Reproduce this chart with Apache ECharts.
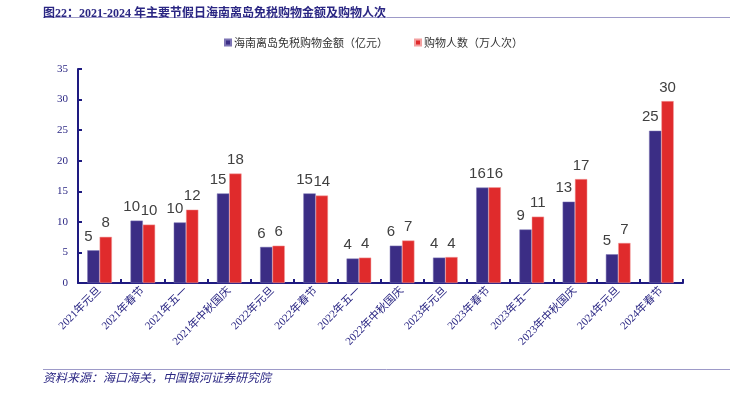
<!DOCTYPE html>
<html>
<head>
<meta charset="utf-8">
<script src="https://cdn.jsdelivr.net/npm/echarts@6/dist/echarts.min.js"></script>
<style>
html,body{margin:0;padding:0;background:#fff;}
#c{width:730px;height:393px;}
</style>
</head>
<body>
<div id="c"></div>
<script>
const categories = ['2021年元旦','2021年春节','2021年五一','2021年中秋国庆','2022年元旦','2022年春节','2022年五一','2022年中秋国庆','2023年元旦','2023年春节','2023年五一','2023年中秋国庆','2024年元旦','2024年春节'];
const amount = [5.35, 10.2, 9.9, 14.65, 5.9, 14.65, 4.0, 6.1, 4.15, 15.6, 8.75, 13.3, 4.7, 24.9];
const visitors = [7.55, 9.55, 12.0, 17.9, 6.1, 14.3, 4.15, 6.95, 4.25, 15.65, 10.85, 17.0, 6.55, 29.75];
const seriesNames = ['海南离岛免税购物金额（亿元）', '购物人数（万人次）'];
const titleText = '图22：2021-2024 年主要节假日海南离岛免税购物金额及购物人次';
const sourceText = '资料来源：海口海关，中国银河证券研究院';

const navy = '#2a2683';
const chart = echarts.init(document.getElementById('c'), null, {renderer: 'canvas'});
const labelCfg = (off) => ({
  show: true, position: 'top', distance: 6, offset: off,
  color: '#404040', fontSize: 15, fontFamily: 'Liberation Sans, Arial, sans-serif',
  formatter: p => Math.round(p.value)
});
chart.setOption({
  animation: false,
  backgroundColor: '#fff',
  title: {
    text: titleText, left: 38, top: 3,
    textStyle: {color: navy, fontSize: 12, fontWeight: 'bold', fontFamily: 'Liberation Serif, Noto Sans CJK SC, serif'}
  },
  graphic: [
    {type: 'line', shape: {x1: 43, y1: 17.5, x2: 730, y2: 17.5}, style: {stroke: '#9d9ac8', lineWidth: 1}},
    {type: 'line', shape: {x1: 43, y1: 369.5, x2: 730, y2: 369.5}, style: {stroke: '#9d9ac8', lineWidth: 1}},
    {type: 'text', left: 43, top: 371, style: {text: sourceText, fill: navy, fontSize: 12, fontStyle: 'italic', fontFamily: 'Noto Sans CJK SC, serif'}}
  ],
  legend: {
    top: 32, left: 219, itemWidth: 6, itemHeight: 6, itemGap: 26, icon: 'rect',
    textStyle: {color: '#333', fontSize: 11, fontFamily: 'Noto Sans CJK SC, sans-serif', padding: [0, 0, 0, -2]},
    data: seriesNames
  },
  grid: {left: 78, right: 47, top: 69, bottom: 110},
  xAxis: {
    type: 'category', data: categories, boundaryGap: true,
    axisLine: {lineStyle: {color: '#1e1a80', width: 2}},
    axisTick: {show: true, inside: true, length: 4, lineStyle: {color: '#1e1a80', width: 2}},
    axisLabel: {rotate: 45, color: navy, fontSize: 11, fontFamily: 'Liberation Serif, Noto Sans CJK SC, serif', margin: 6, interval: 0}
  },
  yAxis: {
    type: 'value', min: 0, max: 35, interval: 5,
    splitLine: {show: false},
    axisLine: {show: true, lineStyle: {color: '#1e1a80', width: 2}},
    axisTick: {show: true, inside: true, length: 4, lineStyle: {color: '#1e1a80', width: 2}},
    axisLabel: {color: navy, fontSize: 11, fontFamily: 'Liberation Serif, serif', margin: 10}
  },
  series: [
    {name: seriesNames[0], type: 'bar', data: amount, barGap: '0%', barCategoryGap: '43%',
     itemStyle: {color: '#3b2d85', borderColor: '#7d74b4', borderWidth: 0.5},
     label: labelCfg([-5, 0])},
    {name: seriesNames[1], type: 'bar', data: visitors,
     itemStyle: {color: '#e02b2c', borderColor: '#f3a0a0', borderWidth: 0.5},
     label: labelCfg([0, 0])}
  ]
});
</script>
</body>
</html>
